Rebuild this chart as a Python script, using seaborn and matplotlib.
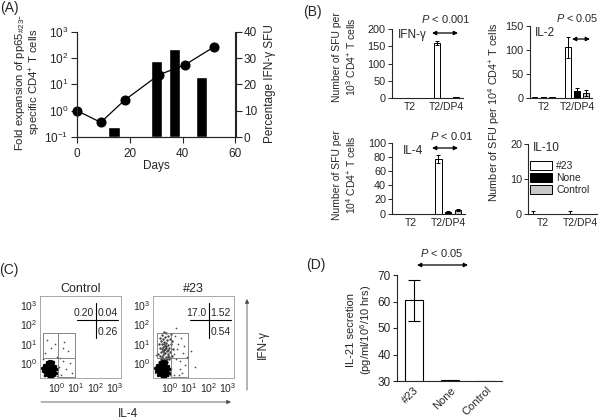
import pandas as pd
import matplotlib
matplotlib.use('Agg')
import matplotlib.pyplot as plt
import seaborn as sns
from matplotlib.patches import Patch, FancyArrowPatch
from matplotlib.ticker import NullLocator, FixedLocator, FixedFormatter

# ---------------- datos ----------------
# (A) expansion de celulas y % de SFU IFN-g
dias_linea = [0, 9, 18, 31, 41, 52]
fold_expansion = [1.0, 0.36, 2.5, 23, 56, 270]
dias_barras = [14, 30, 37, 47]
pct_ifng = [3.8, 28.8, 33.3, 22.7]

# (B) ELISPOT: valores por grupo (#23, None, Control)
estimulos = ['T2', 'T2/DP4']
grupos = ['#23', 'None', 'Control']
ifng_t2 = [0.5, 1.5, 0.5]
ifng_dp4 = [160, 1, 3]
ifng_err_t2 = [0, 0.8, 0]
ifng_err_dp4 = [5, 0.5, 1.5]
il2_t2 = [0.5, 1, 0.5]
il2_dp4 = [105, 13, 10]
il2_err_t2 = [0, 0.5, 0]
il2_err_dp4 = [22, 7, 6]
il4_t2 = [0, 0, 0]
il4_dp4 = [77, 2, 5]
il4_err_t2 = [0, 0, 0]
il4_err_dp4 = [5, 1, 1.5]
il10_t2 = [0, 0, 0]
il10_dp4 = [0, 0, 0]
il10_err_t2 = [1.0, 0, 0]
il10_err_dp4 = [1.0, 0, 0]

# (C) citometria (coordenadas en decadas log10)
blob_x = [-0.38, -0.5, -0.26, -0.44, -0.32, -0.55, -0.2, -0.38, -0.3, -0.47, -0.6, -0.18, -0.35]
blob_y = [-0.32, -0.25, -0.4, -0.5, -0.15, -0.4, -0.28, -0.55, -0.02, -0.1, -0.25, -0.45, -0.62]
borde_x = [-0.7, -0.65, -0.1, -0.05, -0.4, -0.2, -0.6, -0.25, -0.75, 0.0, -0.5, -0.15]
borde_y = [-0.4, -0.1, -0.15, -0.5, 0.12, 0.05, -0.65, -0.72, -0.25, -0.3, 0.05, -0.65]
ctrl_x = [-0.6, -0.3, -0.5, 0.0, -0.1, 0.3, 0.5, 0.2, 0.6, 0.4, -0.7, 0.1, 0.8,
          -0.65, 0.3, 0.15, 0.7, 0.0]
ctrl_y = [0.5, 0.8, 1.2, 0.3, 1.0, 0.1, -0.3, -0.6, 0.6, 1.1, 0.2, -0.2, -0.5,
          -0.7, 0.8, 0.25, 0.0, -0.7]
col23_x = [-0.45, -0.3, -0.15, -0.4, -0.2, -0.05, -0.5, -0.35, -0.1, -0.25, -0.45, -0.15,
           -0.3, 0.0, -0.4, -0.2, -0.05, -0.35, -0.5, -0.25, -0.1, -0.4, -0.2, 0.05,
           -0.3, -0.45, -0.15, -0.35, 0.0, -0.25, -0.5, -0.1, -0.4, -0.2, 0.05, -0.3,
           -0.55, -0.6, 0.1, 0.15, -0.58, 0.12, -0.28, -0.12, -0.38, -0.08, -0.32, -0.18,
           -0.42, -0.22, -0.33, -0.27, -0.17, -0.37, -0.47, -0.07]
col23_y = [0.1, 0.15, 0.05, 0.25, 0.3, 0.2, 0.35, 0.4, 0.45, 0.5, 0.55, 0.6,
           0.65, 0.55, 0.7, 0.75, 0.8, 0.85, 0.8, 0.9, 0.95, 1.0, 1.05, 1.0,
           1.1, 1.15, 1.2, 1.25, 1.25, 1.35, 1.3, 1.4, 1.45, 1.55, 1.5, 1.6,
           0.05, 0.45, 0.35, 0.7, 1.0, 1.15, 0.2, 0.35, 0.6, 0.65, 1.0, 0.9,
           0.3, 0.15, 0.5, 0.7, 0.2, 0.12, 0.2, 0.3]
der23_x = [0.3, 0.5, 0.7, 0.4, 0.2, 0.6, 0.8, 0.35, 0.55, 0.25, 0.75, 0.45, 0.9, 0.2,
           0.65, 1.1, 1.3, 0.3, -0.7, -0.75, -0.1, 0.0]
der23_y = [0.2, -0.3, 0.5, 1.0, -0.6, 1.3, -0.1, 0.7, 0.1, 1.4, 0.9, -0.6, 0.3, 0.45,
           -0.5, 0.6, -0.2, 1.8, 0.4, -0.5, -0.7, -0.6]
gate_x = [-0.69, 0.08, 0.94]
gate_y = [-0.78, 0.24, 1.55]
cuadrante_ctrl = ['0.20', '0.04', '0.26']
cuadrante_23 = ['17.0', '1.52', '0.54']

# (D) IL-21
il21 = [60.5, 30.2, 30.0]
il21_err = [7.8, 0, 0]

colores = {'#23': 'white', 'None': 'black', 'Control': '#c8c8c8'}

# ---------------- estilo ----------------
sns.set_style('ticks')
plt.rcParams['font.family'] = ['Liberation Sans', 'DejaVu Sans']
plt.rcParams['mathtext.fontset'] = 'custom'
plt.rcParams['mathtext.rm'] = 'Liberation Sans'
plt.rcParams['mathtext.it'] = 'Liberation Sans:italic'
plt.rcParams['mathtext.bf'] = 'Liberation Sans:bold'
plt.rcParams['axes.linewidth'] = 0.8

fig = plt.figure(figsize=(6, 4.2), dpi=100)


def fx(px):
    return px / 600


def fy(py):
    return 1 - py / 420


def caja(l, t, r, b):
    return fig.add_axes([fx(l), fy(b), (r - l) / 600, (b - t) / 420])


def texto(x, y, s, **kw):
    kw.setdefault('ha', 'center')
    kw.setdefault('va', 'center')
    fig.text(fx(x), fy(y), s, **kw)


def flecha(x0, y0, x1, y1, estilo='<|-|>', lw=0.9, color='black'):
    fig.add_artist(FancyArrowPatch((fx(x0), fy(y0)), (fx(x1), fy(y1)), transform=fig.transFigure,
                                   arrowstyle=estilo, mutation_scale=6, lw=lw, color=color,
                                   shrinkA=0, shrinkB=0))


# ---------------- (A) ----------------
ax_a = caja(77, 31.7, 235.5, 137)
ax_a2 = ax_a.twinx()
sns.barplot(x=dias_barras, y=pct_ifng, native_scale=True, width=0.6, color='black',
            saturation=1, errorbar=None, ax=ax_a2)
ax_a.set_yscale('log')
sns.lineplot(x=dias_linea, y=fold_expansion, marker='o', color='black', markersize=6.5,
             markeredgecolor='black', linewidth=0.9, ax=ax_a, clip_on=False)
ax_a.set_zorder(ax_a2.get_zorder() + 1)
ax_a.patch.set_visible(False)
ax_a.set_xlim(0, 60)
ax_a2.set_xlim(0, 60)
ax_a.set_ylim(0.1, 1000)
ax_a.yaxis.set_minor_locator(NullLocator())
ax_a2.set_ylim(0, 40)
ax_a2.set_yticks([0, 10, 20, 30, 40])
for a in (ax_a, ax_a2):
    a.tick_params(labelsize=8.5, length=4, width=0.8, pad=2)
    a.spines['top'].set_visible(False)
    a.set_xlabel('')
    a.set_ylabel('')
ax_a.tick_params(axis='x', pad=4)
ax_a.set_xticks([0, 20, 40, 60])
ax_a.set_xticklabels(['0', '20', '40', '60'])
texto(156, 166, 'Days', fontsize=8.5)
texto(28, 82, 'Fold expansion of pp65$_{\\#23}$-\nspecific CD4$^{+}$ T cells', fontsize=8.2,
      rotation=90, linespacing=1.05)
texto(270, 84, 'Percentage IFN-γ SFU', fontsize=8.5, rotation=90)
texto(9, 8, '(A)', fontsize=10)


# ---------------- (B) ----------------
def panel_b(ax, t2, dp4, err_t2, err_dp4, ymax, paso, xlim):
    filas = []
    for i, g in enumerate(grupos):
        filas.append((g, 'T2', t2[i], err_t2[i]))
        filas.append((g, 'T2/DP4', dp4[i], err_dp4[i]))
    df = pd.DataFrame(filas, columns=['grupo', 'estimulo', 'sfu', 'err'])
    sns.barplot(data=df, x='estimulo', y='sfu', hue='grupo', order=estimulos, hue_order=grupos,
                palette=colores, saturation=1, edgecolor='black', linewidth=0.7, width=0.8,
                gap=0.35, errorbar=None, legend=False, ax=ax)
    for cont, g in zip(ax.containers, grupos):
        sub = df[df.grupo == g].set_index('estimulo').loc[estimulos]
        xs = [b.get_x() + b.get_width() / 2 for b in cont]
        for x, v, e in zip(xs, sub['sfu'], sub['err']):
            if e > 0:
                ax.errorbar([x], [v], yerr=[e], fmt='none', ecolor='black', elinewidth=0.7,
                            capsize=1.6, capthick=0.7)
    ax.set_xlim(*xlim)
    ax.set_ylim(0, ymax)
    ax.set_yticks(range(0, ymax + 1, paso))
    ax.tick_params(axis='y', labelsize=7.8, length=3, width=0.7, pad=1.5)
    ax.tick_params(axis='x', labelsize=7.5, length=0, pad=3)
    ax.set_xlabel('')
    ax.set_ylabel('')
    sns.despine(ax=ax)


ax_ifn = caja(391.7, 29, 463, 98.3)
panel_b(ax_ifn, ifng_t2, ifng_dp4, ifng_err_t2, ifng_err_dp4, 200, 50, (-0.5, 1.45))
ax_il2 = caja(530, 25.7, 592, 97.7)
panel_b(ax_il2, il2_t2, il2_dp4, il2_err_t2, il2_err_dp4, 150, 50, (-0.4, 1.45))
ax_il4 = caja(392.3, 142.7, 465, 213.5)
panel_b(ax_il4, il4_t2, il4_dp4, il4_err_t2, il4_err_dp4, 100, 20, (-0.5, 1.45))
ax_il10 = caja(528.3, 144, 597, 214)
panel_b(ax_il10, il10_t2, il10_dp4, il10_err_t2, il10_err_dp4, 20, 10, (-0.4, 1.46))

manijas = [Patch(facecolor=colores[g], edgecolor='black', linewidth=0.7) for g in grupos]
ax_il10.legend(manijas, grupos, loc='upper left', bbox_to_anchor=(0.03, 0.76), frameon=False,
               fontsize=7.5, handlelength=2.1, handleheight=0.9, labelspacing=0.2,
               handletextpad=0.4, borderaxespad=0, borderpad=0)

texto(312, 12, '(B)', fontsize=10)
texto(345, 57, 'Number of SFU per\n10$^{3}$ CD4$^{+}$ T cells', fontsize=7.5, rotation=90,
      linespacing=1.15)
texto(345, 175, 'Number of SFU per\n10$^{4}$ CD4$^{+}$ T cells', fontsize=7.5, rotation=90,
      linespacing=1.15)
texto(494, 112, 'Number of SFU per 10$^{4}$ CD4$^{+}$ T cells', fontsize=7.8, rotation=90)
texto(398, 35, 'IFN-γ', fontsize=8.5, ha='left')
texto(535, 33, 'IL-2', fontsize=8.5, ha='left')
texto(403, 151, 'IL-4', fontsize=8.5, ha='left')
texto(533, 148, 'IL-10', fontsize=8.5, ha='left')
texto(446, 19, '$P$ < 0.001', fontsize=8)
flecha(432, 33, 458, 33)
texto(577, 18, '$P$ < 0.05', fontsize=7.8)
flecha(572, 39, 590, 39)
texto(452, 136, '$P$ < 0.01', fontsize=8)
flecha(432, 148, 458, 148)


# ---------------- (C) ----------------
def panel_c(ax, titulo, extra_x, extra_y, dens_x, dens_y, valores):
    sns.scatterplot(x=extra_x, y=extra_y, s=1.5, color='0.3', linewidth=0, ax=ax)
    sns.scatterplot(x=dens_x, y=dens_y, s=3, color='0.25', linewidth=0, ax=ax)
    sns.scatterplot(x=borde_x, y=borde_y, s=6, color='black', linewidth=0, ax=ax)
    sns.scatterplot(x=blob_x, y=blob_y, s=24, color='black', linewidth=0, ax=ax)
    gx0, gx1, gx2 = gate_x
    gy0, gy1, gy2 = gate_y
    kw = dict(color='0.45', lw=0.6)
    ax.plot([gx0, gx2], [gy2, gy2], **kw)
    ax.plot([gx0, gx0], [gy1, gy2], **kw)
    ax.plot([gx0, gx2], [gy1, gy1], **kw)
    ax.plot([gx1, gx1], [gy0 + 0.05, gy2], **kw)
    ax.plot([gx2, gx2], [gy0 + 0.05, gy2], **kw)
    ax.plot([gx1, gx2], [gy0 + 0.05, gy0 + 0.05], **kw)
    ax.plot([1.03, 3.16], [2.23, 2.23], color='black', lw=0.8)
    ax.plot([2.01, 2.01], [1.3, 3.1], color='black', lw=0.8)
    ax.text(1.9, 2.6, valores[0], fontsize=7.5, ha='right', va='center')
    ax.text(2.1, 2.6, valores[1], fontsize=7.5, ha='left', va='center')
    ax.text(2.1, 1.6, valores[2], fontsize=7.5, ha='left', va='center')
    ax.set_xlim(-0.86, 3.3)
    ax.set_ylim(-0.78, 3.47)
    etiquetas = ['$10^{%d}$' % i for i in range(4)]
    ax.xaxis.set_major_locator(FixedLocator([0, 1, 2, 3]))
    ax.xaxis.set_major_formatter(FixedFormatter(etiquetas))
    ax.yaxis.set_major_locator(FixedLocator([0, 1, 2, 3]))
    ax.yaxis.set_major_formatter(FixedFormatter(etiquetas))
    ax.tick_params(labelsize=7.5, length=0, pad=2)
    for sp in ax.spines.values():
        sp.set_color('0.6')
        sp.set_linewidth(0.6)
    ax.set_title(titulo, fontsize=9, pad=3)


ax_c1 = caja(40, 296, 120.7, 378)
panel_c(ax_c1, 'Control', ctrl_x, ctrl_y, [], [], cuadrante_ctrl)
ax_c2 = caja(153.3, 296, 233.5, 378)
panel_c(ax_c2, '#23', der23_x, der23_y, col23_x, col23_y, cuadrante_23)
flecha(41, 402, 231, 402, estilo='-|>', lw=0.6, color='0.3')
flecha(247, 390, 247, 299, estilo='-|>', lw=0.6, color='0.3')
texto(263, 345, 'IFN-γ', fontsize=8.5, rotation=90)
texto(128, 414, 'IL-4', fontsize=8.5)
texto(9, 270, '(C)', fontsize=10)

# ---------------- (D) ----------------
ax_d = caja(396.7, 275, 501.7, 381)
sns.barplot(x=grupos, y=il21, color='white', edgecolor='black', linewidth=0.8, width=0.5,
            saturation=1, errorbar=None, ax=ax_d)
xs_d = [b.get_x() + b.get_width() / 2 for b in ax_d.containers[0]]
for x, v, e in zip(xs_d, il21, il21_err):
    if e > 0:
        ax_d.errorbar([x], [v], yerr=[e], fmt='none', ecolor='black', elinewidth=0.8,
                      capsize=4, capthick=0.8)
ax_d.set_xlim(-0.48, 2.44)
ax_d.set_ylim(30, 70)
ax_d.set_yticks([30, 40, 50, 60, 70])
ax_d.tick_params(axis='y', labelsize=8.5, length=3, width=0.8, pad=1.5)
ax_d.tick_params(axis='x', labelsize=8, length=0, pad=3)
plt.setp(ax_d.get_xticklabels(), rotation=45, ha='right', rotation_mode='anchor')
sns.despine(ax=ax_d)
texto(360, 330, 'IL-21 secretion\n(pg/ml/10$^{6}$/10 hrs)', fontsize=8, rotation=90, linespacing=1.15)
texto(442, 253, '$P$ < 0.05', fontsize=8)
flecha(417, 265, 468, 265)
texto(316, 265, '(D)', fontsize=10)

fig.savefig('out.png', dpi=100)
